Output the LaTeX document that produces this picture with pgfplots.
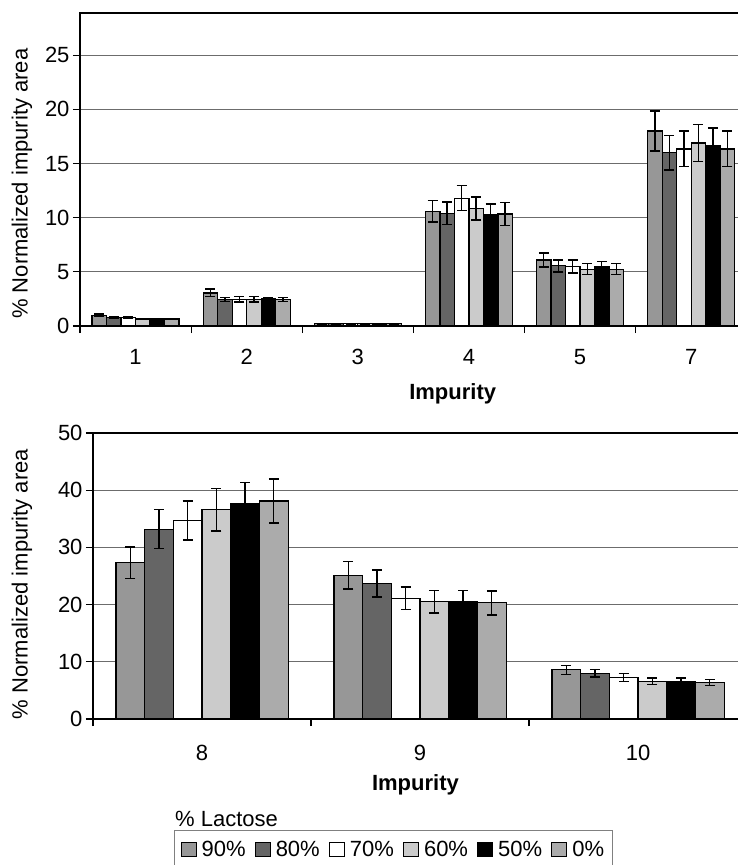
\documentclass[border=0pt]{standalone}
\usepackage{pgfplots}
\pgfplotsset{compat=1.18}
\usepackage{fontspec}
\setmainfont{Liberation Sans}
\definecolor{cA}{HTML}{979797}
\definecolor{cB}{HTML}{656565}
\definecolor{cC}{HTML}{FFFFFF}
\definecolor{cD}{HTML}{CBCBCB}
\definecolor{cE}{HTML}{000000}
\definecolor{cF}{HTML}{ABABAB}
\newcommand{\fs}{\fontsize{22bp}{26bp}\selectfont}
\pgfplotsset{
 ybar legend/.style={legend image code/.code={\draw[##1, draw=black, line width=1.1bp] (0bp,-7bp) rectangle (15bp,7bp);}},
 myax/.style={
  scale only axis, ybar=0pt,
  xmin=-0.5, ymin=0,
  axis line style={black, line width=1.3bp},
  tick pos=left,
  ymajorgrids, major grid style={gray!85!black, line width=1bp},
  major tick length=7bp, minor tick length=7bp,
  tick align=outside,
  major x tick style={draw=none},
  minor x tick style={black, line width=1.2bp},
  y tick style={black, line width=1.2bp},
  tick label style={font=\fs},
  label style={font=\fs},
  /pgf/number format/assume math mode=true,
  xtick=data,
  ylabel={\% Normalized impurity area},
  xlabel={\textbf{Impurity}},
  error bars/y dir=both, error bars/y explicit,
  error bars/error bar style={black, line width=1.4bp},
  error bars/error mark options={rotate=90, mark size=5bp, line width=1.4bp, black},
  every axis plot/.append style={draw=black, line width=1.2bp},
 },
}
\begin{document}
\begin{tikzpicture}
\useasboundingbox (0,0) rectangle (738bp,-865bp);
\clip (0,0) rectangle (738bp,-865bp);
% ---------------- top chart ----------------
\begin{axis}[myax,
  at={(80bp,-326bp)}, anchor=south west,
  width=666.7bp, height=313bp,
  xmax=5.5, ymax=28.9,
  bar width=14.5bp,
  ytick={0,5,...,25},
  xticklabels={1,2,3,4,5,7},
  minor xtick={-0.5,0.5,...,5.5},
  xticklabel style={anchor=center, yshift=-24bp},
  xlabel style={at={(axis description cs:0.559,-0.217)}, anchor=center},
  ylabel style={at={(axis description cs:-0.087,0.455)}, anchor=center},
]
\addplot[fill=cA] table[x=x,y=y,y error=e] {
x y e
0 1.0 0.1
1 3.05 0.35
2 0.2 0
3 10.6 1.0
4 6.1 0.65
5 18.0 1.85
};
\addplot[fill=cB] table[x=x,y=y,y error=e] {
x y e
0 0.8 0.05
1 2.45 0.2
2 0.2 0
3 10.4 1.05
4 5.55 0.55
5 16.0 1.6
};
\addplot[fill=cC] table[x=x,y=y,y error=e] {
x y e
0 0.78 0.05
1 2.45 0.25
2 0.2 0
3 11.8 1.15
4 5.5 0.6
5 16.35 1.65
};
\addplot[fill=cD] table[x=x,y=y,y error=e] {
x y e
0 0.65 0.05
1 2.45 0.25
2 0.2 0
3 10.85 1.05
4 5.25 0.5
5 16.9 1.7
};
\addplot[fill=cE] table[x=x,y=y,y error=e] {
x y e
0 0.65 0.05
1 2.5 0.1
2 0.2 0
3 10.3 0.95
4 5.45 0.5
5 16.65 1.65
};
\addplot[fill=cF] table[x=x,y=y,y error=e] {
x y e
0 0.65 0.05
1 2.45 0.2
2 0.2 0
3 10.35 1.05
4 5.25 0.5
5 16.35 1.65
};
\draw[black, line width=2.2bp] (rel axis cs:0,1) -- (rel axis cs:1,1);
\end{axis}
% ---------------- bottom chart ----------------
\begin{axis}[myax,
  at={(93bp,-719bp)}, anchor=south west,
  width=654bp, height=286bp,
  xmax=2.5, ymax=50,
  bar width=28.7bp,
  ytick={0,10,...,50},
  xticklabels={8,9,10},
  minor xtick={-0.5,0.5,1.5,2.5},
  xticklabel style={anchor=center, yshift=-27bp},
  xlabel style={at={(axis description cs:0.493,-0.231)}, anchor=center},
  ylabel style={at={(axis description cs:-0.1086,0.472)}, anchor=center},
  legend style={at={(axis description cs:0.1239,-0.388)}, anchor=north west,
    legend columns=6, draw=gray, line width=1bp, font=\fs,
    inner xsep=6bp, inner ysep=9bp,
    nodes={inner sep=2bp},
    /tikz/every odd column/.append style={column sep=3bp},
    /tikz/every even column/.append style={column sep=7bp}},
  legend cell align=left,
]
\addplot[fill=cA] table[x=x,y=y,y error=e] {
x y e
0 27.3 2.75
1 25.1 2.4
2 8.6 0.8
};
\addplot[fill=cB] table[x=x,y=y,y error=e] {
x y e
0 33.2 3.4
1 23.7 2.35
2 8.0 0.65
};
\addplot[fill=cC] table[x=x,y=y,y error=e] {
x y e
0 34.7 3.4
1 21.1 2.0
2 7.3 0.7
};
\addplot[fill=cD] table[x=x,y=y,y error=e] {
x y e
0 36.6 3.75
1 20.5 1.95
2 6.6 0.55
};
\addplot[fill=cE] table[x=x,y=y,y error=e] {
x y e
0 37.6 3.7
1 20.6 1.9
2 6.6 0.55
};
\addplot[fill=cF] table[x=x,y=y,y error=e] {
x y e
0 38.1 3.85
1 20.3 2.1
2 6.4 0.55
};
\legend{90\%,80\%,70\%,60\%,50\%,0\%}
\end{axis}
\node[anchor=base west, inner sep=0pt, font=\fs] at (175bp,-826bp) {\% Lactose};
\end{tikzpicture}
\end{document}
